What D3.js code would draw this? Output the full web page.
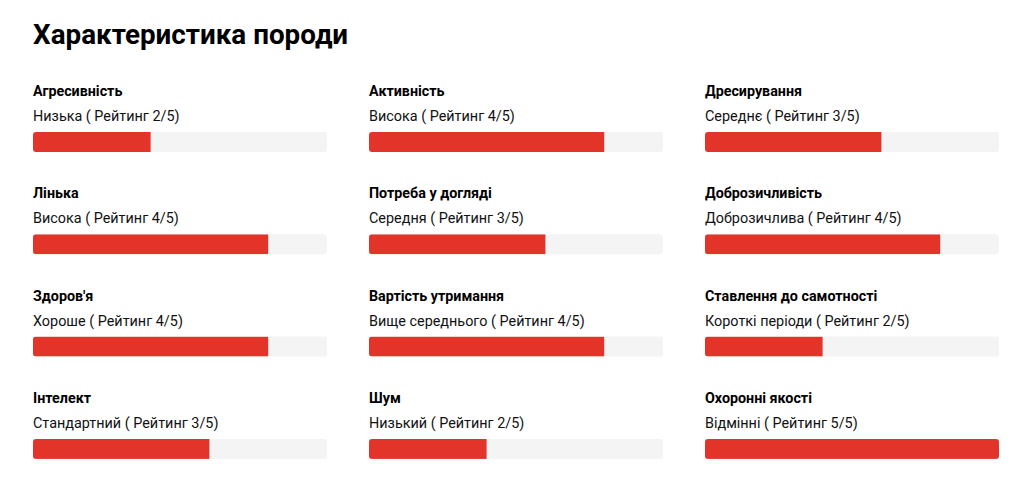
<!DOCTYPE html>
<html>
<head>
<meta charset="utf-8">
<script src="https://cdn.jsdelivr.net/npm/d3@7/dist/d3.min.js"></script>
<style>
html,body{margin:0;padding:0;background:#fff;}
svg{display:block;font-family:Roboto,"Noto Sans",sans-serif;}
</style>
</head>
<body>
<svg id="chart" width="1024" height="480"></svg>
<script>
const title = "Характеристика породи";
const categories = ["Агресивність","Активність","Дресирування","Лінька","Потреба у догляді","Доброзичливість","Здоров'я","Вартість утримання","Ставлення до самотності","Інтелект","Шум","Охоронні якості"];
const levels = ["Низька","Висока","Середнє","Висока","Середня","Доброзичлива","Хороше","Вище середнього","Короткі періоди","Стандартний","Низький","Відмінні"];
const ratings = [2,4,3,4,3,4,4,4,2,3,2,5];
const maxRating = 5;

const svg = d3.select("#chart");
const colW = 294, barH = 20;

svg.append("text").attr("x",33).attr("y",44)
  .attr("font-size",27.8).attr("font-weight",700).attr("fill","#000")
  .text(title);

const col = d3.scaleBand().domain([0,1,2]).range([33,33+336*3]).paddingInner(0).align(0);
const row = d3.scaleLinear().domain([0,1]).range([0,102.3]);
const x = d3.scaleLinear().domain([0,maxRating]).range([0,colW]);

const defs = svg.append("defs");
const g = svg.selectAll("g.item").data(categories).join("g")
  .attr("class","item")
  .attr("transform",(d,i)=>`translate(${col(i%3)},${row(Math.floor(i/3))})`);

g.append("text").attr("x",0).attr("y",96)
  .attr("font-size",14.3).attr("font-weight",700).attr("fill","#000")
  .text(d=>d);
g.append("text").attr("x",0).attr("y",121)
  .attr("font-size",14.4).attr("font-weight",400).attr("fill","#111")
  .text((d,i)=>`${levels[i]} ( Рейтинг ${ratings[i]}/${maxRating})`);

g.each(function(d,i){
  defs.append("clipPath").attr("id","clip"+i)
    .append("rect").attr("x",0).attr("y",132).attr("width",x(maxRating)).attr("height",barH).attr("rx",3).attr("ry",3);
});
g.append("rect").attr("x",0).attr("y",132).attr("width",x(maxRating)).attr("height",barH)
  .attr("rx",3).attr("ry",3).attr("fill","#f4f4f4");
g.append("rect").attr("clip-path",(d,i)=>`url(#clip${i})`)
  .attr("x",0).attr("y",132).attr("width",(d,i)=>x(ratings[i])).attr("height",barH)
  .attr("fill","#e3342a");
</script>
</body>
</html>
